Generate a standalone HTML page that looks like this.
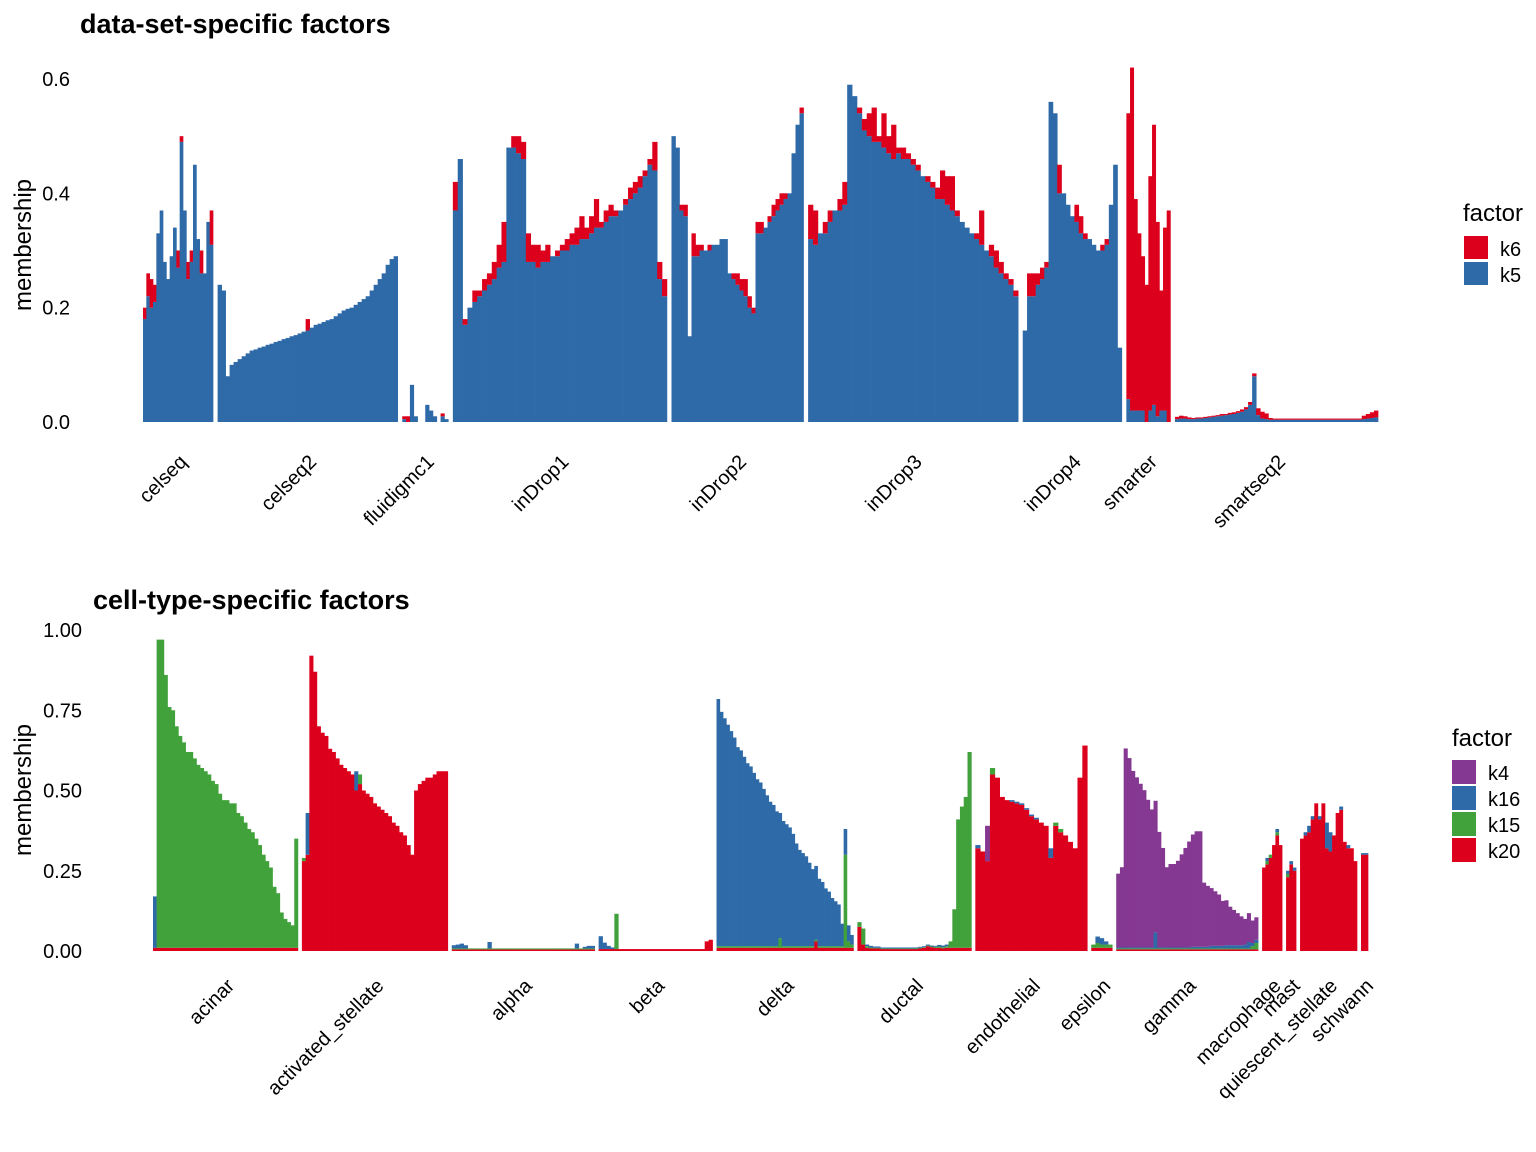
<!DOCTYPE html>
<html><head><meta charset="utf-8"><style>
body{margin:0;background:#fff}
svg{display:block;font-family:"Liberation Sans",Arial,sans-serif}
</style></head><body>
<svg id="chart" width="1536" height="1152" viewBox="0 0 1536 1152" xmlns="http://www.w3.org/2000/svg">
<text x="80" y="33" font-size="27" font-weight="bold" fill="#000">data-set-specific factors</text>
<text x="93" y="609" font-size="27" font-weight="bold" fill="#000">cell-type-specific factors</text>
<text transform="translate(31,245) rotate(-90)" text-anchor="middle" font-size="24" fill="#000">membership</text>
<text transform="translate(31,790) rotate(-90)" text-anchor="middle" font-size="24" fill="#000">membership</text>
<g id="top"></g>
<g id="bot"></g>
<g>
<text x="1463" y="221" font-size="24" fill="#000">factor</text>
<rect x="1464" y="236" width="24" height="23" fill="#dc001c"/>
<text x="1500" y="256" font-size="20" fill="#000">k6</text>
<rect x="1464" y="262" width="24" height="23" fill="#2e6aa8"/>
<text x="1500" y="282" font-size="20" fill="#000">k5</text>
</g>
<g>
<text x="1452" y="746" font-size="24" fill="#000">factor</text>
<rect x="1452" y="760" width="24" height="24" fill="#853891"/>
<text x="1488" y="780" font-size="20" fill="#000">k4</text>
<rect x="1452" y="786" width="24" height="24" fill="#2e6aa8"/>
<text x="1488" y="806" font-size="20" fill="#000">k16</text>
<rect x="1452" y="812" width="24" height="24" fill="#41a23b"/>
<text x="1488" y="832" font-size="20" fill="#000">k15</text>
<rect x="1452" y="838" width="24" height="24" fill="#dc001c"/>
<text x="1488" y="858" font-size="20" fill="#000">k20</text>
</g>
</svg>
<script>
const topGroups=["celseq","celseq2","fluidigmc1","inDrop1","inDrop2","inDrop3","inDrop4","smarter","smartseq2"];
const topCells=[70,180,46,214,132,210,99,44,203];
const topTicks=[0,0.2,0.4,0.6];
const topTickLabels=["0.0","0.2","0.4","0.6"];
const k5=[
[.18,.22,.20,.21,.33,.37,.28,.25,.29,.34,.27,.49,.37,.25,.28,.45,.32,.26,.26,.35,.31],
[.24,.23,.08,.10,.105,.11,.115,.12,.125,.127,.13,.132,.135,.137,.14,.142,.145,.147,.15,.152,.155,.158,.16,.165,.17,.172,.175,.178,.18,.185,.19,.195,.198,.20,.205,.21,.215,.22,.23,.24,.25,.26,.275,.285,.29],
[.005,0,.065,.01,0,0,.03,.02,.01,0,.01,.005],
[.37,.46,.17,.20,.21,.22,.23,.24,.25,.27,.28,.48,.48,.47,.46,.28,.28,.27,.28,.28,.29,.29,.30,.30,.31,.31,.32,.32,.33,.34,.34,.35,.36,.36,.37,.38,.39,.40,.41,.43,.45,.44,.25,.22],
[.50,.48,.37,.36,.15,.29,.29,.30,.30,.30,.31,.31,.32,.32,.26,.25,.24,.23,.22,.20,.19,.33,.33,.34,.35,.36,.37,.38,.39,.40,.47,.52,.54],
[.32,.31,.33,.33,.35,.37,.37,.38,.59,.57,.54,.51,.50,.49,.49,.48,.47,.46,.47,.46,.46,.45,.44,.43,.42,.41,.39,.39,.38,.37,.36,.35,.34,.33,.32,.31,.30,.29,.27,.26,.25,.24,.22],
[.16,.22,.22,.24,.25,.27,.56,.54,.40,.40,.38,.36,.35,.33,.32,.32,.31,.30,.30,.31,.38,.45,.13],
[.04,.02,.02,.02,.02,0,.02,.03,.01,.02,.02,0],
[.005,.006,.006,.005,.005,.006,.006,.007,.008,.009,.01,.011,.012,.013,.014,.016,.018,.022,.03,.08,.012,.006,.005,.004,.004,.004,.004,.004,.004,.004,.004,.004,.004,.004,.004,.004,.004,.004,.004,.004,.004,.004,.004,.004,.004,.004,.005,.006,.007,.008]
];
const k6=[
[.02,.04,.05,.03,0,0,0,0,0,0,.03,.01,0,.03,.02,0,0,.04,0,0,.06],
[0,0,0,0,0,0,0,0,0,0,0,0,0,0,0,0,0,0,0,0,0,0,.02,0,0,0,0,0,0,0,0,0,0,0,0,0,0,0,0,0,0,0,0,0,0],
[.005,.01,0,0,0,0,0,0,0,0,.005,0],
[.05,0,.01,0,.02,.01,.02,.02,.03,.04,.07,0,.02,.03,.03,.05,.03,.04,.02,.03,0,.01,.01,.02,.02,.03,.04,.02,.03,.05,.01,.02,.02,.01,0,.01,.02,.02,.02,.01,.01,.05,.03,.03],
[0,0,.01,.02,0,.04,.02,.01,0,.01,0,0,0,0,0,.01,.02,.02,.03,.02,.01,.02,.02,0,.01,.02,.02,.02,.01,0,0,0,.01],
[.06,.06,0,.02,.02,0,.02,.04,0,0,.01,.02,.04,.06,.01,.06,.03,.06,.01,.02,.01,.01,.01,0,.01,.01,.02,.05,.05,.06,.01,0,0,0,.01,.06,0,.02,.03,.02,.01,.01,.01],
[0,.04,.04,.02,.02,.01,0,0,.05,0,0,0,.03,.03,.01,0,0,0,.01,.01,0,0,0],
[.50,.60,.37,.31,.27,.24,.41,.49,.34,.21,.32,.37],
[.004,.005,.004,.003,.002,.002,.002,.002,.002,.002,.002,.003,.002,.003,.003,.003,.004,.004,.005,.005,.012,.012,.01,.003,.002,.002,.002,.002,.002,.002,.002,.002,.002,.002,.002,.002,.002,.002,.002,.002,.002,.002,.002,.002,.002,.002,.006,.008,.01,.012]
];

const botGroups=["acinar","activated_stellate","alpha","beta","delta","ductal","endothelial","epsilon","gamma","macrophage","mast","quiescent_stellate","schwann"];
const botCells=[145,146,143,114,137,114,112,21,142,20,10,57,7];
const botTicks=[0,0.25,0.5,0.75,1];
const botTickLabels=["0.00","0.25","0.50","0.75","1.00"];
const k20=[
[.01,.01,.01,.01,.01,.01,.01,.01,.01,.01,.01,.01,.01,.01,.01,.01,.01,.01,.01,.01,.01,.01,.01,.01,.01,.01,.01,.01,.01,.01,.01,.01,.01,.01,.01,.01,.01,.01,.01,.01],
[.28,.30,.92,.87,.70,.68,.67,.63,.62,.60,.58,.57,.56,.55,.50,.52,.50,.49,.48,.46,.45,.44,.43,.42,.40,.39,.37,.36,.33,.30,.50,.52,.53,.54,.54,.55,.56,.56,.56],
[.005,.005,.005,.005,.005,.005,.005,.005,.005,.005,.005,.005,.005,.005,.005,.005,.005,.005,.005,.005,.005,.005,.005,.005,.005,.005,.005,.005,.005,.005,.005,.005,.005,.005,.005,.005],
[.006,.006,.006,.006,.006,.006,.006,.006,.006,.006,.006,.006,.006,.006,.006,.006,.006,.006,.006,.006,.006,.006,.006,.006,.006,.006,.006,.03,.035],
[.01,.01,.01,.01,.01,.01,.01,.01,.01,.01,.01,.01,.01,.01,.01,.01,.01,.01,.01,.01,.01,.01,.01,.01,.01,.01,.01,.01,.01,.01,.03,.01,.01,.01,.01,.01,.01,.01,.01,.01,.01,.01],
[.075,.02,.01,.008,.008,.008,.006,.006,.006,.006,.006,.006,.006,.006,.006,.006,.008,.01,.015,.012,.01,.01,.008,.01,.01,.01,.01,.01,.01,.01],
[.32,.31,.28,.55,.54,.48,.47,.465,.46,.455,.44,.42,.41,.40,.39,.29,.39,.37,.36,.34,.32,.54,.64],
[.01,.01,.01,.01,.01],
[.005,.005,.005,.005,.005,.005,.005,.005,.005,.005,.005,.005,.005,.005,.005,.005,.005,.005,.005,.005,.005,.005,.005,.005,.005,.005,.005,.005,.005,.005,.005,.005,.005,.005,.005,.005,.005,.005],
[.26,.27,.29,.33,.36,.33],
[.23,.27,.25],
[.35,.36,.37,.41,.46,.41,.46,.32,.31,.36,.43,.44,.34,.32,.32,.28],
[.30,.30]
];
const k15=[
[0,.96,.96,.85,.75,.74,.69,.66,.64,.61,.61,.59,.57,.56,.55,.54,.52,.51,.48,.46,.46,.45,.45,.42,.41,.39,.37,.36,.34,.32,.29,.27,.25,.19,.17,.11,.09,.08,.07,.34],
[.01,0,0,0,0,0,0,0,0,0,0,0,0,0,0,.03],
[.003,.003,.003,.003,.003,.003,.003,.003,.003,.003,.003,.003,.003,.003,.003,.003,.003,.003,.003,.003,.003,.003,.003,.003,.003,.003,.003,.003,.003,.003,.003,.003,.003,.003,.003,.003],
[0,0,0,0,.11],
[.005,.005,.005,.005,.005,.005,.005,.005,.005,.005,.005,.005,.005,.005,.005,.005,.005,.005,.005,.03,.005,.005,.005,.005,.005,.005,.005,.005,.005,.005,.005,.005,.005,.005,.005,.005,.005,.005,.005,.29,.02,.01],
[.015,.05,.005,.003,.002,.002,.002,.002,.002,.002,.002,.002,.002,.002,.002,.002,.002,.002,.002,.002,.003,.004,.004,.005,.02,.12,.40,.44,.47,.61],
[0,0,0,.02,0,0,0,0,0,0,0,0,0,0,0,0,.01,.01],
[.01,.015,.01,.01,.01],
[.003,.003,.003,.003,.003,.003,.003,.003,.003,.003,.003,.003,.003,.003,.003,.003,.003,.003,.003,.003,.003,.003,.003,.003,.003,.003,.003,.003,.003,.003,.003,.003,.003,.003,.003,.003,.01,.02],
[0,.01,.01,0,.01,0],
[.01,0,0],
[],
[]
];
const k16=[
[.16],
[0,.13,0,0,0,0,0,0,0,0,0,0,0,0,.06],
[.01,.012,.015,.01,0,0,0,0,0,.02,0,0,0,0,0,0,0,0,0,0,0,0,0,0,0,0,0,0,0,0,0,.015,0,.005,.008,.008],
[.04,.02,.01,.005],
[.77,.73,.71,.69,.67,.65,.62,.61,.59,.57,.56,.54,.52,.51,.49,.47,.45,.44,.42,.39,.39,.38,.37,.35,.32,.30,.29,.28,.26,.24,.23,.21,.20,.18,.17,.15,.14,.13,.07,.08,.05,.03],
[0,0,.005,.005,.004,.004,.003,.003,.003,.003,.003,.003,.003,.003,.003,.003,.003,.003,.003,.003,.003,.005,.005,.005],
[.01,0,0,0,0,0,0,.005,.005,.005,.005,.005,.005,0,0,.03],
[0,.02,.02,.01,0],
[.003,.003,.003,.003,.003,.003,.003,.003,.003,.003,.05,.003,.003,.003,.003,.003,.003,.003,.003,.003,.005,.005,.005,.005,.005,.008,.008,.008,.008,.01,.01,.01,.01,.01,.012,.02,.01,.01],
[0,.01,0,0,.01,0],
[.01,.01,.01],
[0,.01,.02,.01,0,.01,0,.08,.06,0,0,.01,0,.01,0,0],
[.005,.005]
];
const k4=[
[],[],[],[],[],[],
[0,0,.11],
[],
[.23,.25,.62,.59,.55,.53,.51,.49,.46,.43,.41,.36,.31,.25,.26,.26,.27,.29,.31,.33,.35,.36,.36,.20,.19,.18,.17,.16,.14,.14,.12,.11,.10,.09,.08,.09,.07,.07],
[],[],[],[]
];

const NS="http://www.w3.org/2000/svg";
function mk(tag,attrs,parent){const e=document.createElementNS(NS,tag);for(const k in attrs)e.setAttribute(k,attrs[k]);parent.appendChild(e);return e;}

function drawPanel(gid,groups,cells,series,colors,names,x0,x1,gap,yBase,yPerUnit,ticks,tickLabels,tickX,labelDx,labelDy){
  const g=document.getElementById(gid);
  const y=v=>yBase-v*yPerUnit;
  const total=cells.reduce((a,b)=>a+b,0);
  const unit=(x1-x0-gap*(groups.length-1))/total;
  ticks.forEach((t,i)=>{
    const tl=mk('text',{x:tickX,y:y(t)+7,'text-anchor':'end','font-size':20,fill:'#000'},g);
    
    
    tl.textContent=tickLabels[i];
  });
  let cx=x0;
  groups.forEach((name,gi)=>{
    const gw=cells[gi]*unit;
    let n=0;series.forEach(s=>{n=Math.max(n,s[gi].length);});
    const bw=gw/n;
    const gg=mk('g',{},g);
    
    
    for(let b=0;b<n;b++){
      let acc=0;
      series.forEach((s,si)=>{
        const v=s[gi][b]||0;
        if(v<=0)return;
        const r=mk('rect',{x:(cx+b*bw).toFixed(2),y:y(acc+v).toFixed(2),width:(bw+0.35).toFixed(2),height:(v*yPerUnit).toFixed(2),fill:colors[si]},gg);
        
        
        acc+=v;
      });
    }
    const c=cx+gw/2;
    const lx=c+labelDx, ly=yBase+labelDy;
    const t=mk('text',{x:lx,y:ly,'text-anchor':'end','font-size':20,fill:'#000',transform:`rotate(-45 ${lx} ${ly})`},g);
    
    
    t.textContent=name;
    cx+=gw+gap;
  });
}
drawPanel('top',topGroups,topCells,[k5,k6],['#2e6aa8','#dc001c'],['k5','k6'],143,1378,4.6,422,571.7,topTicks,topTickLabels,70,10,41);
drawPanel('bot',botGroups,botCells,[k20,k15,k16,k4],['#dc001c','#41a23b','#2e6aa8','#853891'],['k20','k15','k16','k4'],153,1368,4,951,321,botTicks,botTickLabels,82,10,36);
</script>
</body></html>
